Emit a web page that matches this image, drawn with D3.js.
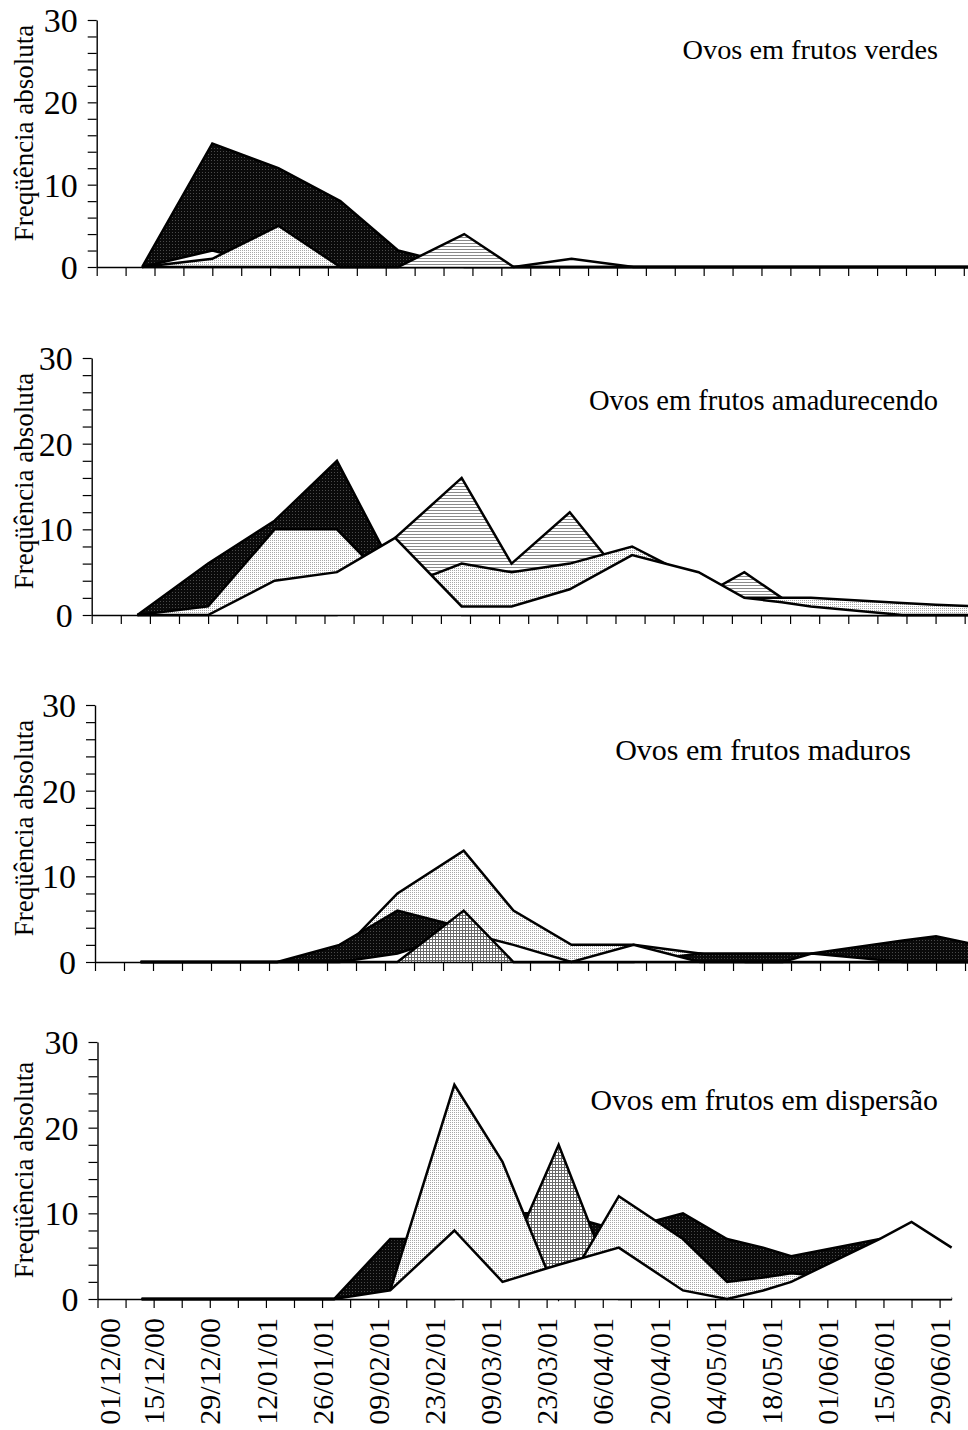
<!DOCTYPE html>
<html>
<head>
<meta charset="utf-8">
<script src="https://cdn.jsdelivr.net/npm/d3@7"></script>
<style>
  body { margin: 0; background: #fff; }
  svg { display: block; }
  text { font-family: "Liberation Serif", "Times New Roman", serif; fill: #000; }
</style>
</head>
<body>
<svg id="chart" width="968" height="1430"></svg>
<script>
// Sampling dates (collections of fruits)
const sampleDates = ["2000-12-12","2000-12-29","2001-01-14","2001-01-29","2001-02-12","2001-02-28",
  "2001-03-12","2001-03-26","2001-04-10","2001-04-26","2001-05-07","2001-05-16","2001-05-23",
  "2001-06-14","2001-06-22","2001-07-02"];

// Axis extent and tick labels
const axisStart = "2000-12-01";
const axisEnd = "2001-07-02";
const tickLabels = ["01/12/00","15/12/00","29/12/00","12/01/01","26/01/01","09/02/01","23/02/01",
  "09/03/01","23/03/01","06/04/01","20/04/01","04/05/01","18/05/01","01/06/01","15/06/01","29/06/01"];
const yTickLabels = [0, 10, 20, 30];
const yAxisTitle = "Freqüência absoluta";

// Panel titles
const panelTitles = ["Ovos em frutos verdes", "Ovos em frutos amadurecendo",
  "Ovos em frutos maduros", "Ovos em frutos em dispersão"];

// Eggs in green fruits
const verdesSolid   = [0,15,12,8,2,0,0,0,0,0,0,0,0,0,0,0];
const verdesWhite   = [0,2,0,0,0,0,0,1,0,0,0,0,0,0,0,0];
const verdesDotted  = [0,1,5,0,0,0,0,0,0,0,0,0,0,0,0,0];
const verdesHatched = [0,0,0,0,0,4,0,0,0,0,0,0,0,0,0,0];

// Eggs in ripening fruits
const amadSolid   = [0,6,11,18,5,0,0,0,0,0,0,0,0,0,0,0];
const amadHatched = [0,0,0,0,9,16,6,12,3,2,5,2,0,0,0,0];
const amadDotted  = [0,1,10,10,3,6,5,6,8,4,2,2,2,1.4,1.2,1];
const amadWhite   = [0,0,4,5,9,1,1,3,7,5,2,1.5,1,0,0,0];

// Eggs in ripe fruits
const madDotted = [0,0,0,1,8,13,6,2,2,1,0,0,0,0,0,0];
const madSolid  = [0,0,0,2,6,4,0,0,0,1,1,1,1,2.5,3,2];
const madWhite  = [0,0,0,0,1,3.5,2,0,2,0,0,0,1,0,0,0];
const madGrid   = [0,0,0,0,0,6,0,0,0,0,0,0,0,0,0,0];

// Eggs in dispersing fruits
const dispSolid  = [0,0,0,0,7,7,10,10,8,10,7,6,5,7,5,0];
const dispGrid   = [0,0,0,0,0,0,3,18,0,0,0,0,0,0,0,0];
const dispDotted = [0,0,0,0,1,25,16,0,12,7,2,2.5,3,2,0,0];
const dispWhite  = [0,0,0,0,1,8,2,4,6,1,0,1,2,7,9,6];

// Series per panel, listed from back to front
const panelSeries = [
  [["solid", verdesSolid], ["white", verdesWhite], ["dotted", verdesDotted], ["hatched", verdesHatched]],
  [["solid", amadSolid], ["hatched", amadHatched], ["dotted", amadDotted], ["white", amadWhite]],
  [["dotted", madDotted], ["solid", madSolid], ["white", madWhite], ["grid", madGrid]],
  [["solid", dispSolid], ["grid", dispGrid], ["dotted", dispDotted], ["white", dispWhite]]
];

// Plot frames
const layout = [
  { left: 96.7, pxPerDay: 4.129, bottom: 267,  top: 20,   titleEnd: 938, titleBase: 59,   titleSize: 28.3, yTitleMid: 133 },
  { left: 91.7, pxPerDay: 4.157, bottom: 615,  top: 358,  titleEnd: 938, titleBase: 410,  titleSize: 28.5, yTitleMid: 481 },
  { left: 95,   pxPerDay: 4.143, bottom: 962,  top: 705,  titleEnd: 911, titleBase: 760,  titleSize: 30,   yTitleMid: 828 },
  { left: 97.5, pxPerDay: 4.01,  bottom: 1299, top: 1042, titleEnd: 938, titleBase: 1110, titleSize: 29.8, yTitleMid: 1170 }
];

const parse = d3.utcParse("%Y-%m-%d");
const dates = sampleDates.map(parse);
const t0 = parse(axisStart), t1 = parse(axisEnd);
const spanDays = d3.utcDay.count(t0, t1);
const tickDates = d3.range(0, 211, 7).map(k => d3.utcDay.offset(t0, k));

const svg = d3.select("#chart");
const defs = svg.append("defs");

// Fill patterns
function pattern(id, w, h, bg, draw) {
  const p = defs.append("pattern").attr("id", id).attr("patternUnits", "userSpaceOnUse")
    .attr("width", w).attr("height", h);
  p.append("rect").attr("width", w).attr("height", h).attr("fill", bg);
  draw(p);
}
pattern("pat-solid", 3, 3, "#0a0a0a", p => {
  p.append("rect").attr("x", 1).attr("y", 1).attr("width", 1).attr("height", 1).attr("fill", "#4a4a4a");
});
pattern("pat-dotted", 2, 2, "#ffffff", p => {
  p.append("rect").attr("x", 0).attr("y", 0).attr("width", 1).attr("height", 1).attr("fill", "#a8a8a8");
});
pattern("pat-hatched", 3, 3, "#ffffff", p => {
  p.append("rect").attr("x", 0).attr("y", 0).attr("width", 3).attr("height", 1).attr("fill", "#8a8a8a");
});
pattern("pat-grid", 3, 3, "#ffffff", p => {
  p.append("rect").attr("x", 0).attr("y", 0).attr("width", 3).attr("height", 1).attr("fill", "#6a6a6a");
  p.append("rect").attr("x", 0).attr("y", 0).attr("width", 1).attr("height", 3).attr("fill", "#6a6a6a");
});
const fills = { solid: "url(#pat-solid)", dotted: "url(#pat-dotted)", hatched: "url(#pat-hatched)",
  grid: "url(#pat-grid)", white: "#ffffff" };

layout.forEach((L, pi) => {
  const x = d3.scaleUtc().domain([t0, t1]).range([L.left, L.left + spanDays * L.pxPerDay]);
  const y = d3.scaleLinear().domain([0, 30]).range([L.bottom, L.top]);
  const g = svg.append("g");

  const area = d3.area().x((d, i) => x(dates[i])).y0(y(0)).y1(d => y(d));
  const line = d3.line().x((d, i) => x(dates[i])).y(d => y(d));

  panelSeries[pi].forEach(([kind, values]) => {
    g.append("path").attr("d", area(values)).attr("fill", fills[kind]);
    g.append("path").attr("d", line(values)).attr("fill", "none")
      .attr("stroke", "#000").attr("stroke-width", 2.5).attr("stroke-linejoin", "miter");
  });

  // Date axis: a tick each week, a label every second week on the bottom panel
  const xAxis = d3.axisBottom(x).tickValues(tickDates).tickSize(9).tickSizeOuter(0)
    .tickFormat((d, i) => (pi === 3 && i % 2 === 0) ? tickLabels[i / 2] : "");
  const gx = g.append("g").attr("transform", `translate(0,${L.bottom})`).call(xAxis);
  gx.select(".domain").attr("stroke", "#000").attr("stroke-width", 1.4);
  gx.selectAll(".tick line").attr("stroke", "#000").attr("stroke-width", 1.2);
  gx.selectAll(".tick text")
    .attr("font-family", "Liberation Serif").attr("font-size", 30)
    .attr("transform", (d, i) => i === 0 ? "translate(12,0) rotate(-90)" : "rotate(-90)")
    .attr("text-anchor", "end")
    .attr("x", -19).attr("y", 0).attr("dy", "0.34em");

  // Value axis
  const yAxis = d3.axisLeft(y).tickValues(d3.range(0, 31, 2)).tickSize(9).tickSizeOuter(0).tickPadding(10)
    .tickFormat(d => yTickLabels.includes(d) ? d : "");
  const gy = g.append("g").attr("transform", `translate(${L.left},0)`).call(yAxis);
  gy.select(".domain").attr("stroke", "#000").attr("stroke-width", 1.4);
  gy.selectAll(".tick line").attr("stroke", "#000").attr("stroke-width", 1.2);
  gy.selectAll(".tick text").attr("font-family", "Liberation Serif").attr("font-size", 34).attr("dy", "0.34em");

  g.append("text").attr("transform", `translate(33,${L.yTitleMid}) rotate(-90)`)
    .attr("text-anchor", "middle").attr("font-size", 27).text(yAxisTitle);

  g.append("text").attr("x", L.titleEnd).attr("y", L.titleBase).attr("text-anchor", "end")
    .attr("font-size", L.titleSize).text(panelTitles[pi]);
});
</script>
</body>
</html>
